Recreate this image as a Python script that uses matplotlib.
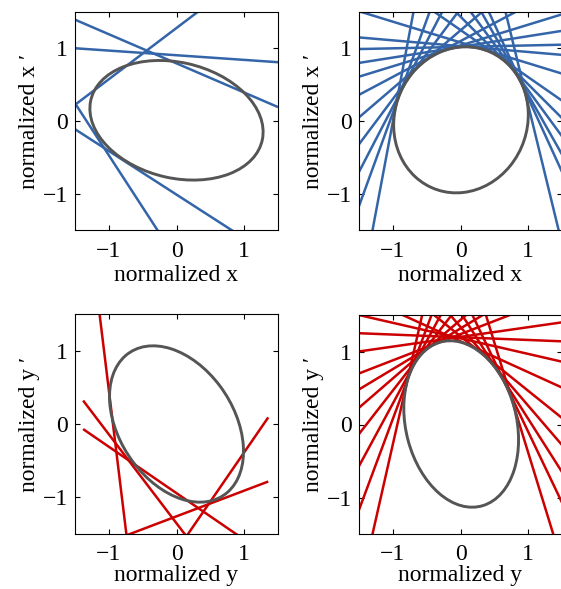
import numpy as np
import matplotlib
matplotlib.use("Agg")
import matplotlib.pyplot as plt
from matplotlib.patches import Ellipse

plt.rcParams['font.family'] = ['Liberation Serif', 'DejaVu Serif']

# ---- data ----
# fitted ellipses: centre x, centre y, half extent in x, half extent in y, correlation
ellipse_x = (0.0, 0.01, 1.28, 0.823, -0.195)
ellipse_xs = (0.007, 0.016, 0.995, 1.005, 0.07)
ellipse_y = (0.0, 0.0, 0.99, 1.066, -0.35)
ellipse_ys = (0.01, 0.007, 0.848, 1.14, -0.19)

# measurement lines: x' = slope * x + intercept
slope_x = [-0.401, -0.064, 0.705, -1.433, -0.600]
icpt_x = [0.793, 0.905, 1.280, -1.905, -1.013]

slope_xs = [-0.286, -0.08, 0.02, 0.147, 0.286, 0.493, 0.798, 1.244, 1.792, 2.56, 4.961,
            -0.648, -0.931, -1.268, -1.645, -2.036, -3.826]
icpt_xs = [1.081, 1.03, 1.02, 1.02, 1.039, 1.1, 1.247, 1.546, 1.988, 2.67, 4.949,
           1.252, 1.436, 1.692, 2.007, 2.354, 4.047]

slope_y = [-7.576, -1.213, -0.633, 0.350, 1.341]
icpt_y = [-7.114, -1.354, -0.943, -1.259, -1.728]

slope_ys = [0.133, -0.037, -0.213, 0.359, 0.557, 0.802, 1.19, 1.713, 2.49, 4.09,
            -0.422, -0.746, -1.078, -1.457, -1.941, -3.016]
icpt_ys = [1.2, 1.195, 1.18, 1.238, 1.316, 1.433, 1.655, 2.0, 2.566, 3.818,
           1.139, 1.208, 1.336, 1.535, 1.842, 2.632]

ticks = [-1, 0, 1]

W, H = 561, 589
BLUE = '#3465a9'
RED = '#cc0000'
GREY = '#555555'


def draw_panel(ax, ell, slopes, icpts, xspan, color, var, xpad, tpad):
    # lines first, ellipse on top
    for m, b in zip(slopes, icpts):
        xs = np.array(xspan)
        ax.plot(xs, m * xs + b, color=color, lw=1.8, solid_capstyle='butt')
    cx, cy, sx, sy, r = ell
    cov = np.array([[sx * sx, r * sx * sy], [r * sx * sy, sy * sy]])
    vals, vecs = np.linalg.eigh(cov)
    ang = np.degrees(np.arctan2(vecs[1, 1], vecs[0, 1]))
    ax.add_patch(Ellipse((cx, cy), 2 * np.sqrt(vals[1]), 2 * np.sqrt(vals[0]), angle=ang,
                         fill=False, ec=GREY, lw=2.1, zorder=3))
    ax.set_xlim(-1.5, 1.5)
    ax.set_ylim(-1.5, 1.5)
    ax.set_xticks(ticks)
    ax.set_yticks(ticks)
    ax.tick_params(direction='in', top=True, right=True, length=3.5, width=0.8, labelsize=17)
    ax.tick_params(axis='x', pad=tpad)
    ax.tick_params(axis='y', pad=5)
    ax.set_xlabel('normalized ' + var, fontsize=17, labelpad=xpad)
    ax.set_ylabel('normalized ' + var + ' \u2032', fontsize=17, labelpad=2)


fig = plt.figure(figsize=(W / 100, H / 100), dpi=100)


def place(l, t, w, h):
    # pixel box (left, top, width, height) -> figure fraction
    return fig.add_axes([l / W, 1 - (t + h) / H, w / W, h / H])


draw_panel(place(75, 12, 203, 218), ellipse_x, slope_x, icpt_x, (-1.5, 1.5), BLUE, 'x', 2, 8)
draw_panel(place(359, 12, 203, 218), ellipse_xs, slope_xs, icpt_xs, (-1.5, 1.6), BLUE, 'x', 2, 8)
draw_panel(place(75, 314, 203, 220), ellipse_y, slope_y, icpt_y, (-1.38, 1.356), RED, 'y', 0.5, 7)
draw_panel(place(359, 315, 203, 219), ellipse_ys, slope_ys, icpt_ys, (-1.5, 1.6), RED, 'y', 0.5, 7)

fig.savefig('out.png', dpi=100)
